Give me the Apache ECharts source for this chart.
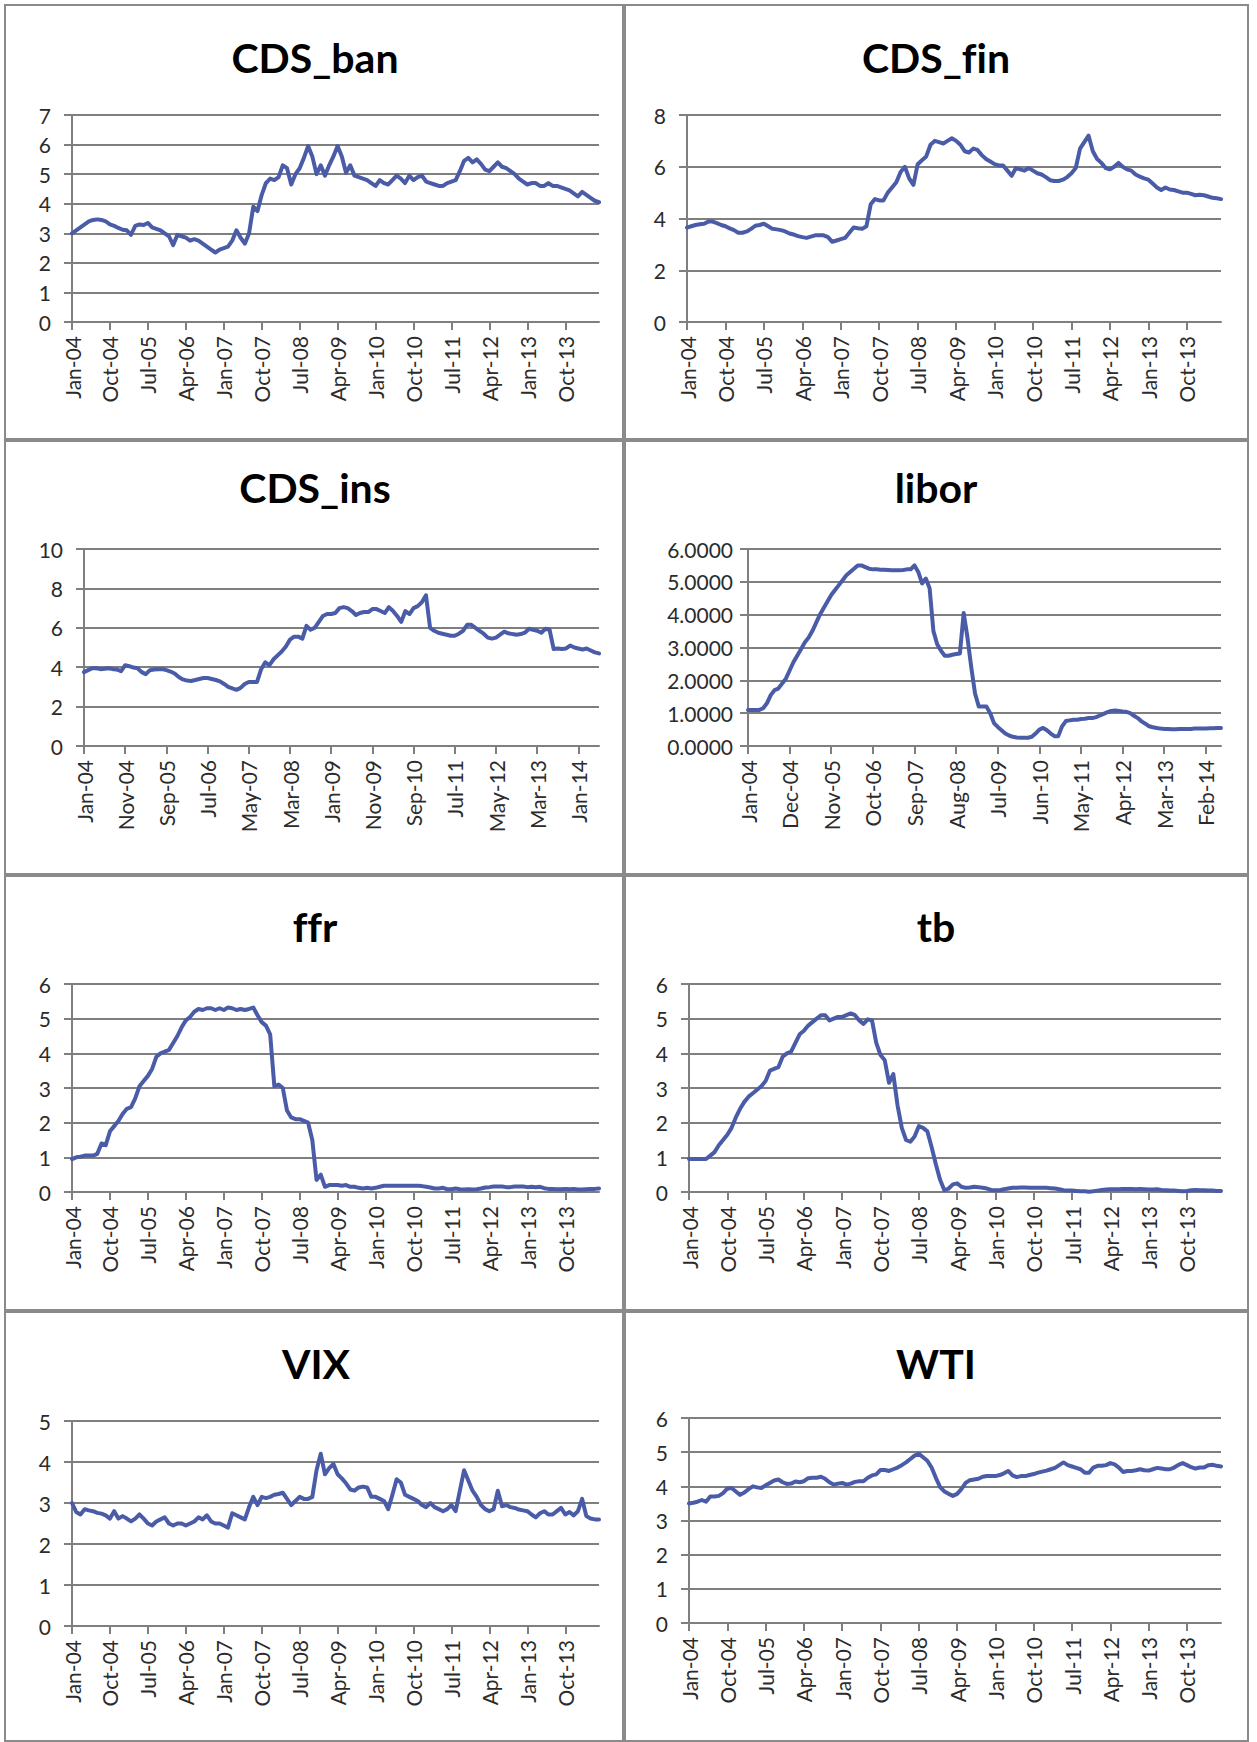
<!DOCTYPE html>
<html>
<head>
<meta charset="utf-8">
<script src="https://cdn.jsdelivr.net/npm/echarts@6/dist/echarts.min.js"></script>
<style>
html,body{margin:0;padding:0;background:#fff;}
#c{width:1257px;height:1742px;}
#c svg text{font-variant-ligatures:none;font-feature-settings:"liga" 0,"clig" 0;}
</style>
</head>
<body>
<div id="c"></div>
<script>
// ---- categories: monthly, Jan-04 .. Jun-14 ----
const MONTH_NAMES = ['Jan','Feb','Mar','Apr','May','Jun','Jul','Aug','Sep','Oct','Nov','Dec'];
const months = [];
for (let i = 0; i < 126; i++) {
  const yr = 2004 + Math.floor(i / 12);
  months.push(MONTH_NAMES[i % 12] + '-' + String(yr).slice(2));
}

// ---- series values ----
const cdsBan = [3.0,3.1,3.2,3.3,3.4,3.45,3.47,3.45,3.4,3.3,
3.25,3.18,3.12,3.1,2.95,3.25,3.3,3.28,3.35,3.2,
3.15,3.1,3.0,2.9,2.6,2.95,2.9,2.85,2.75,2.8,
2.75,2.65,2.55,2.45,2.35,2.45,2.5,2.55,2.75,3.1,
2.85,2.65,3.0,3.9,3.75,4.3,4.7,4.85,4.8,4.9,
5.3,5.2,4.65,5.0,5.2,5.55,5.95,5.6,5.0,5.3,
4.95,5.3,5.6,5.95,5.6,5.05,5.3,4.95,4.9,4.85,
4.8,4.7,4.6,4.8,4.7,4.65,4.8,4.95,4.85,4.7,
4.95,4.8,4.9,4.95,4.75,4.7,4.65,4.6,4.6,4.7,
4.75,4.8,5.1,5.45,5.55,5.4,5.5,5.35,5.15,5.1,
5.25,5.4,5.25,5.2,5.1,5.0,4.85,4.75,4.65,4.7,
4.7,4.6,4.6,4.7,4.6,4.6,4.55,4.5,4.45,4.35,
4.25,4.4,4.3,4.2,4.1,4.05];

const cdsFin = [3.65,3.7,3.75,3.78,3.8,3.88,3.88,3.82,3.75,3.7,
3.62,3.55,3.45,3.45,3.5,3.6,3.72,3.75,3.8,3.7,
3.6,3.58,3.55,3.5,3.42,3.38,3.32,3.28,3.25,3.3,
3.35,3.35,3.35,3.28,3.1,3.15,3.2,3.25,3.45,3.65,
3.62,3.6,3.7,4.55,4.75,4.7,4.7,5.0,5.2,5.4,
5.8,6.0,5.55,5.3,6.1,6.25,6.4,6.85,7.0,6.95,
6.9,7.0,7.1,7.0,6.85,6.6,6.55,6.7,6.65,6.45,
6.3,6.2,6.1,6.05,6.05,5.85,5.65,5.95,5.9,5.85,
5.95,5.85,5.75,5.7,5.6,5.48,5.45,5.45,5.5,5.6,
5.75,5.95,6.7,6.95,7.2,6.6,6.3,6.15,5.95,5.9,
6.0,6.15,6.0,5.9,5.85,5.7,5.62,5.55,5.5,5.35,
5.2,5.1,5.2,5.12,5.1,5.05,5.0,5.0,4.95,4.9,
4.92,4.9,4.85,4.8,4.78,4.75];

const cdsIns = [3.75,3.85,3.95,3.95,3.9,3.92,3.95,3.9,3.88,3.8,
4.1,4.05,3.98,3.95,3.75,3.65,3.85,3.88,3.9,3.9,
3.85,3.78,3.68,3.5,3.38,3.32,3.3,3.35,3.4,3.45,
3.45,3.4,3.35,3.28,3.15,3.0,2.92,2.85,2.95,3.15,
3.25,3.25,3.25,3.9,4.25,4.1,4.4,4.6,4.8,5.05,
5.4,5.55,5.55,5.45,6.1,5.9,6.0,6.3,6.6,6.7,
6.7,6.75,7.0,7.05,7.0,6.85,6.65,6.75,6.8,6.8,
6.95,6.95,6.85,6.75,7.05,6.85,6.6,6.3,6.85,6.7,
7.0,7.1,7.3,7.65,6.0,5.85,5.75,5.7,5.65,5.6,
5.6,5.7,5.85,6.15,6.15,6.0,5.85,5.7,5.5,5.45,
5.5,5.65,5.8,5.72,5.68,5.65,5.68,5.75,5.95,5.9,
5.85,5.75,5.95,5.9,4.92,4.95,4.92,4.95,5.1,5.0,
4.95,4.9,4.95,4.85,4.75,4.7];

const libor = [1.1,1.1,1.1,1.1,1.15,1.3,1.55,1.7,1.75,1.9,
2.05,2.3,2.55,2.75,2.95,3.15,3.3,3.5,3.75,4.0,
4.2,4.4,4.6,4.75,4.9,5.05,5.2,5.3,5.4,5.5,
5.5,5.45,5.4,5.38,5.38,5.37,5.37,5.36,5.35,5.35,
5.35,5.36,5.38,5.38,5.5,5.3,4.95,5.1,4.8,3.5,
3.1,2.9,2.75,2.75,2.78,2.8,2.82,4.05,3.3,2.4,
1.6,1.2,1.2,1.2,1.0,0.7,0.58,0.48,0.38,0.32,
0.28,0.26,0.25,0.25,0.25,0.28,0.38,0.5,0.55,0.48,
0.38,0.3,0.3,0.6,0.76,0.78,0.8,0.8,0.82,0.83,
0.85,0.85,0.88,0.93,0.98,1.03,1.07,1.08,1.07,1.05,
1.04,1.0,0.92,0.85,0.75,0.68,0.6,0.57,0.55,0.53,
0.52,0.52,0.51,0.51,0.52,0.52,0.52,0.52,0.53,0.53,
0.53,0.53,0.54,0.54,0.55,0.55];

const ffr = [0.95,1.0,1.02,1.05,1.05,1.05,1.1,1.4,1.35,1.75,
1.9,2.05,2.25,2.4,2.45,2.7,3.05,3.2,3.35,3.55,
3.9,4.0,4.05,4.1,4.3,4.5,4.75,4.95,5.05,5.2,
5.28,5.25,5.3,5.3,5.25,5.3,5.25,5.32,5.3,5.25,
5.28,5.25,5.28,5.32,5.1,4.9,4.8,4.55,3.05,3.1,
3.0,2.35,2.15,2.1,2.1,2.05,2.0,1.5,0.35,0.5,
0.15,0.2,0.2,0.2,0.18,0.2,0.15,0.15,0.12,0.1,
0.12,0.1,0.12,0.15,0.18,0.18,0.18,0.18,0.18,0.18,
0.18,0.18,0.18,0.17,0.15,0.13,0.1,0.1,0.12,0.08,
0.08,0.1,0.08,0.07,0.08,0.07,0.08,0.1,0.13,0.14,
0.16,0.16,0.16,0.14,0.14,0.16,0.16,0.16,0.14,0.15,
0.14,0.15,0.11,0.09,0.09,0.08,0.08,0.09,0.08,0.09,
0.07,0.07,0.08,0.09,0.09,0.1];

const tb = [0.95,0.95,0.95,0.95,0.95,1.05,1.15,1.35,1.5,1.65,
1.85,2.15,2.4,2.6,2.75,2.85,2.95,3.05,3.2,3.5,
3.55,3.6,3.9,4.0,4.05,4.3,4.55,4.65,4.8,4.9,
5.0,5.1,5.1,4.95,5.0,5.05,5.05,5.1,5.15,5.1,
4.95,4.85,4.98,4.95,4.3,3.95,3.8,3.15,3.4,2.5,
1.85,1.5,1.45,1.6,1.9,1.85,1.75,1.3,0.8,0.35,
0.05,0.1,0.22,0.25,0.15,0.12,0.13,0.15,0.14,0.12,
0.1,0.06,0.05,0.05,0.08,0.1,0.12,0.12,0.13,0.13,
0.12,0.12,0.12,0.12,0.12,0.11,0.1,0.08,0.05,0.04,
0.04,0.03,0.02,0.02,0.01,0.02,0.04,0.06,0.07,0.08,
0.08,0.08,0.09,0.09,0.09,0.08,0.09,0.08,0.07,0.07,
0.08,0.06,0.05,0.04,0.04,0.03,0.02,0.03,0.05,0.06,
0.05,0.05,0.04,0.04,0.03,0.03];

const vix = [3.0,2.78,2.72,2.85,2.82,2.8,2.76,2.74,2.7,2.62,
2.8,2.62,2.68,2.62,2.55,2.62,2.72,2.62,2.5,2.45,
2.55,2.6,2.65,2.5,2.45,2.5,2.5,2.45,2.5,2.55,
2.65,2.6,2.7,2.55,2.5,2.5,2.45,2.4,2.75,2.7,
2.65,2.6,2.9,3.15,2.95,3.15,3.12,3.15,3.2,3.22,
3.25,3.1,2.95,3.05,3.15,3.1,3.1,3.15,3.8,4.2,
3.7,3.85,3.95,3.7,3.6,3.48,3.33,3.3,3.38,3.4,
3.38,3.15,3.15,3.1,3.05,2.85,3.2,3.58,3.5,3.2,
3.15,3.1,3.05,2.95,2.9,3.0,2.9,2.85,2.8,2.85,
2.95,2.8,3.3,3.8,3.55,3.3,3.15,2.95,2.85,2.8,
2.85,3.3,2.92,2.95,2.9,2.88,2.84,2.82,2.8,2.72,
2.65,2.75,2.8,2.72,2.72,2.8,2.88,2.72,2.78,2.7,
2.8,3.1,2.68,2.62,2.6,2.6];

const wti = [3.5,3.52,3.55,3.6,3.55,3.7,3.7,3.72,3.8,3.93,
3.95,3.85,3.75,3.82,3.92,4.0,3.97,3.95,4.03,4.1,
4.17,4.2,4.12,4.07,4.08,4.14,4.12,4.15,4.24,4.25,
4.25,4.28,4.22,4.12,4.05,4.08,4.1,4.05,4.08,4.13,
4.15,4.15,4.25,4.32,4.35,4.48,4.48,4.45,4.5,4.55,
4.62,4.7,4.8,4.9,4.95,4.85,4.75,4.55,4.25,3.98,
3.85,3.78,3.72,3.78,3.92,4.1,4.18,4.2,4.22,4.28,
4.3,4.3,4.3,4.33,4.38,4.45,4.32,4.27,4.3,4.3,
4.33,4.36,4.4,4.43,4.46,4.5,4.54,4.62,4.7,4.62,
4.58,4.54,4.5,4.4,4.4,4.55,4.6,4.6,4.62,4.68,
4.64,4.55,4.42,4.45,4.45,4.47,4.5,4.47,4.46,4.5,
4.54,4.52,4.5,4.5,4.55,4.63,4.68,4.62,4.56,4.52,
4.55,4.55,4.62,4.63,4.6,4.58];

// ---- panel titles, y ranges and label steps ----
const titles = ['CDS_ban','CDS_fin','CDS_ins','libor','ffr','tb','VIX','WTI'];
const seriesList = [cdsBan, cdsFin, cdsIns, libor, ffr, tb, vix, wti];
const yMax = [7, 8, 10, 6, 6, 6, 5, 6];
const yStep = [1, 2, 2, 1, 1, 1, 1, 1];
const labelEvery = [9, 9, 10, 11, 9, 9, 9, 9];   // months between x-axis labels
const yDecimals = [0, 0, 0, 4, 0, 0, 0, 0];

// ---- layout (pixels) ----
const grids = [
  {l:72,  r:599,  t:115, b:322},
  {l:687, r:1221, t:115, b:322},
  {l:84,  r:599,  t:549, b:746},
  {l:748, r:1221, t:549, b:746},
  {l:72,  r:599,  t:984, b:1192},
  {l:689, r:1221, t:984, b:1192},
  {l:72,  r:599,  t:1421, b:1626},
  {l:689, r:1221, t:1418, b:1623}
];
const titlePos = [
  {x:315, y:58},{x:936, y:58},
  {x:315, y:488},{x:936, y:488},
  {x:315, y:927},{x:936, y:927},
  {x:316, y:1364},{x:936, y:1364}
];
const panels = [
  {x:5, y:5, w:618, h:434},{x:625, y:5, w:623, h:434},
  {x:5, y:441, w:618, h:433},{x:625, y:441, w:623, h:433},
  {x:5, y:876, w:618, h:434},{x:625, y:876, w:623, h:434},
  {x:5, y:1312, w:618, h:429},{x:625, y:1312, w:623, h:429}
];

const LINE = '#4a5ca8';
const GRIDC = '#7f7f7f';
const TXT = '#2b2b2b';
const FONT = 'Lato';

const option = {
  animation: false,
  backgroundColor: '#ffffff',
  title: titles.map((t, i) => ({
    text: t,
    left: titlePos[i].x,
    top: titlePos[i].y - 27,
    textAlign: 'center',
    padding: 0,
    textStyle: {fontFamily: FONT, fontWeight: 'bold', fontSize: 41, color: '#000', lineHeight: 53}
  })),
  grid: grids.map(g => ({left: g.l, top: g.t, width: g.r - g.l, height: g.b - g.t, containLabel: false})),
  xAxis: grids.map((g, i) => ({
    gridIndex: i,
    type: 'category',
    data: months,
    boundaryGap: false,
    axisLine: {show: true, lineStyle: {color: GRIDC, width: 2}},
    axisTick: {show: true, interval: labelEvery[i] - 1, length: 8, lineStyle: {color: GRIDC, width: 2}},
    axisLabel: {show: true, interval: labelEvery[i] - 1, rotate: 90, margin: 14,
      fontFamily: FONT, fontSize: 21, color: TXT},
    splitLine: {show: false}
  })),
  yAxis: grids.map((g, i) => ({
    gridIndex: i,
    type: 'value',
    min: 0,
    max: yMax[i],
    interval: yStep[i],
    axisLine: {show: true, lineStyle: {color: GRIDC, width: 2}},
    axisTick: {show: true, length: 8, lineStyle: {color: GRIDC, width: 2}},
    axisLabel: {show: true, margin: i === 3 ? 15 : 21, fontFamily: FONT, fontSize: 21, color: TXT,
      formatter: v => v.toFixed(yDecimals[i])},
    splitLine: {show: true, lineStyle: {color: GRIDC, width: 2}}
  })),
  series: seriesList.map((d, i) => ({
    type: 'line',
    xAxisIndex: i,
    yAxisIndex: i,
    data: d,
    showSymbol: false,
    symbol: 'none',
    lineStyle: {color: LINE, width: 4, join: 'round', cap: 'round'},
    z: 5
  })),
  graphic: panels.map(p => ({
    type: 'rect',
    shape: {x: p.x, y: p.y, width: p.w, height: p.h},
    style: {fill: 'none', stroke: '#8a8a8a', lineWidth: 2},
    silent: true,
    z: 100
  }))
};

const chart = echarts.init(document.getElementById('c'), null, {renderer: 'svg'});
chart.setOption(option);
</script>
</body>
</html>
